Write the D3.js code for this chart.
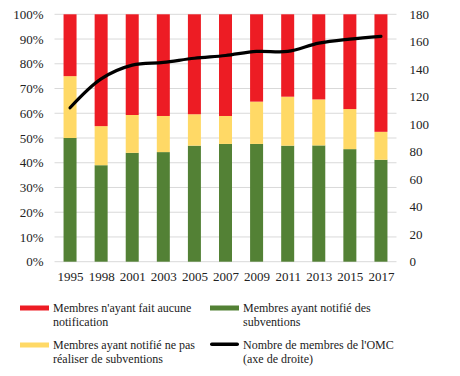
<!DOCTYPE html>
<html>
<head>
<meta charset="utf-8">
<script src="https://cdn.jsdelivr.net/npm/d3@7"></script>
<style>
  body { margin: 0; background: #fff; }
  text { font-family: "Liberation Serif", "DejaVu Serif", serif; fill: #222; }
</style>
</head>
<body>
<svg width="460" height="376"></svg>
<script>
var years = ["1995","1998","2001","2003","2005","2007","2009","2011","2013","2015","2017"];
// share of members (%)
var notified = [50, 39, 44, 44.3, 46.9, 47.6, 47.6, 46.9, 47, 45.5, 41.2];
var noSubsidy = [25, 15.8, 15.3, 14.6, 12.7, 11.3, 17.1, 19.8, 18.6, 16.2, 11.3];
var noNotif = [25, 45.2, 40.7, 41.1, 40.4, 41.1, 35.3, 33.3, 34.4, 38.3, 47.5];
// number of WTO members (right axis)
var members = [112, 133, 143, 145, 148, 150, 153, 153, 159, 162, 164];
var pctTicks = [0,10,20,30,40,50,60,70,80,90,100];
var memTicks = [0,20,40,60,80,100,120,140,160,180];

var svg = d3.select('svg');
var plotL = 54.5, plotR = 396.5, plotT = 14.3, plotB = 261.7, barWidth = 13;

var x = d3.scalePoint().domain(years).range([plotL, plotR]).padding(0.5);
var y = d3.scaleLinear().domain([0,100]).range([plotB, plotT]);
var y2 = d3.scaleLinear().domain([0,180]).range([plotB, plotT]);

// grid
svg.append('g').selectAll('line')
   .data(pctTicks)
   .enter()
   .append('line')
   .attr('x1', plotL).attr('x2', plotR)
   .attr('y1', function(d){ return y(d); })
   .attr('y2', function(d){ return y(d); })
   .attr('stroke', '#d9d9d9')
   .attr('stroke-width', 1);

// stacked bars
var rows = years.map(function(yr, i){
  return {year: yr, notified: notified[i], noSubsidy: noSubsidy[i], noNotif: noNotif[i]};
});
var keys = ['notified','noSubsidy','noNotif'];
var colors = {notified: '#538135', noSubsidy: '#FFD966', noNotif: '#ED1C24'};
var stack = d3.stack().keys(keys)(rows);

svg.append('g').selectAll('g')
   .data(stack)
   .enter()
   .append('g')
   .attr('fill', function(d){ return colors[d.key]; })
   .selectAll('rect')
   .data(function(d){ return d; })
   .enter()
   .append('rect')
   .attr('x', function(d){ return x(d.data.year) - barWidth/2; })
   .attr('width', barWidth)
   .attr('y', function(d){ return y(d[1]); })
   .attr('height', function(d){ return y(d[0]) - y(d[1]); });

// members line
var line = d3.line()
   .x(function(d, i){ return x(years[i]); })
   .y(function(d){ return y2(d); })
   .curve(d3.curveCatmullRom.alpha(0.5));
svg.append('path')
   .datum(members)
   .attr('d', line)
   .attr('fill', 'none')
   .attr('stroke', '#000')
   .attr('stroke-width', 3.2)
   .attr('stroke-linecap', 'round');

// axes
var axL = svg.append('g')
   .attr('transform', 'translate(' + (plotL - 2) + ',0)')
   .call(d3.axisLeft(y).tickValues(pctTicks).tickSize(0).tickPadding(9)
         .tickFormat(function(d){ return d + '%'; }));
var axR = svg.append('g')
   .attr('transform', 'translate(' + (plotR + 2) + ',0)')
   .call(d3.axisRight(y2).tickValues(memTicks).tickSize(0).tickPadding(11));
var axB = svg.append('g')
   .attr('transform', 'translate(0,' + plotB + ')')
   .call(d3.axisBottom(x).tickSize(0).tickPadding(10));
[axL, axR, axB].forEach(function(a){
  a.select('.domain').remove();
  a.selectAll('text').attr('font-size', 13).attr('font-family', '"Liberation Serif", serif').attr('fill', '#222');
});

// legend
var legend = [
  {label: ["Membres n'ayant fait aucune", "notification"], color: '#ED1C24', x: 20, y: 308, type: 'bar'},
  {label: ["Membres ayant notifié des", "subventions"], color: '#538135', x: 210, y: 308, type: 'bar'},
  {label: ["Membres ayant notifié ne pas", "réaliser de subventions"], color: '#FFD966', x: 20, y: 345, type: 'bar'},
  {label: ["Nombre de membres de l'OMC", "(axe de droite)"], color: '#000', x: 210, y: 345, type: 'line'}
];
var lg = svg.append('g').selectAll('g')
   .data(legend)
   .enter()
   .append('g')
   .attr('transform', function(d){ return 'translate(' + d.x + ',' + d.y + ')'; });
lg.append('rect')
   .attr('x', 0).attr('y', -2.5)
   .attr('width', 29)
   .attr('height', function(d){ return d.type == 'bar' ? 5 : 3.5; })
   .attr('rx', function(d){ return d.type == 'bar' ? 0 : 1.75; })
   .attr('fill', function(d){ return d.color; });
lg.append('text')
   .attr('x', 33).attr('y', 4)
   .attr('font-size', 12)
   .selectAll('tspan')
   .data(function(d){ return d.label; })
   .enter()
   .append('tspan')
   .attr('x', 33)
   .attr('dy', function(d, i){ return i == 0 ? 0 : 14; })
   .text(function(d){ return d; });
</script>
</body>
</html>
